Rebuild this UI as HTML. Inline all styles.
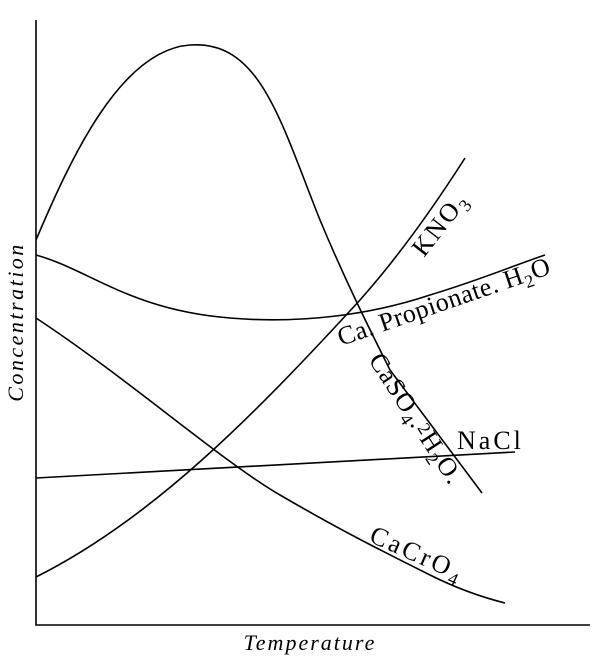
<!DOCTYPE html>
<html><head><style>body{margin:0;background:#fff}svg{display:block}</style></head>
<body>
<svg width="608" height="665" viewBox="0 0 608 665" xmlns="http://www.w3.org/2000/svg" font-family="Liberation Serif, serif" fill="none" stroke="#000" stroke-width="1.6">
<path d="M36 20 V625 H590"/>
<path d="M36 240 C70 160 120 50 190 45 C260 40 280 120 320 220 C345 280 370 330 390 370 L482 493"/>
<path d="M36 577 C150 520 250 420 360 300 C400 255 435 205 465 158"/>
<path d="M36 255 C90 270 130 310 230 318 C300 324 370 315 430 295 C480 280 515 265 545 255"/>
<path d="M36 478 L515 452"/>
<path d="M36 318 C130 380 220 460 280 495 C340 530 380 550 430 575 C460 590 485 598 505 603"/>
<g fill="#000" stroke="none" font-size="26">
<text transform="translate(424,258) rotate(-52)" letter-spacing="2">KNO<tspan font-size="18" dy="6">3</tspan></text>
<text transform="translate(341,346) rotate(-19)" letter-spacing="0.5">Ca. Propionate. H<tspan font-size="18" dy="6">2</tspan><tspan dy="-6">O</tspan></text>
<text transform="translate(368,360) rotate(57)" letter-spacing="1">CaSO<tspan font-size="18" dy="6">4</tspan><tspan dy="-6">.</tspan><tspan font-size="18" dy="-4">2</tspan><tspan dy="4">H</tspan><tspan font-size="18" dy="6">2</tspan><tspan dy="-6">O.</tspan></text>
<text x="457" y="449" letter-spacing="3">NaCl</text>
<text transform="translate(368,541) rotate(24)" letter-spacing="3">CaCrO<tspan font-size="18" dy="6">4</tspan></text>
<text font-style="italic" font-size="22" x="310" y="650" text-anchor="middle" letter-spacing="2">Temperature</text>
<text font-style="italic" font-size="22" transform="translate(23,322) rotate(-90)" text-anchor="middle" letter-spacing="2.5">Concentration</text>
</g>
</svg>
</body></html>
